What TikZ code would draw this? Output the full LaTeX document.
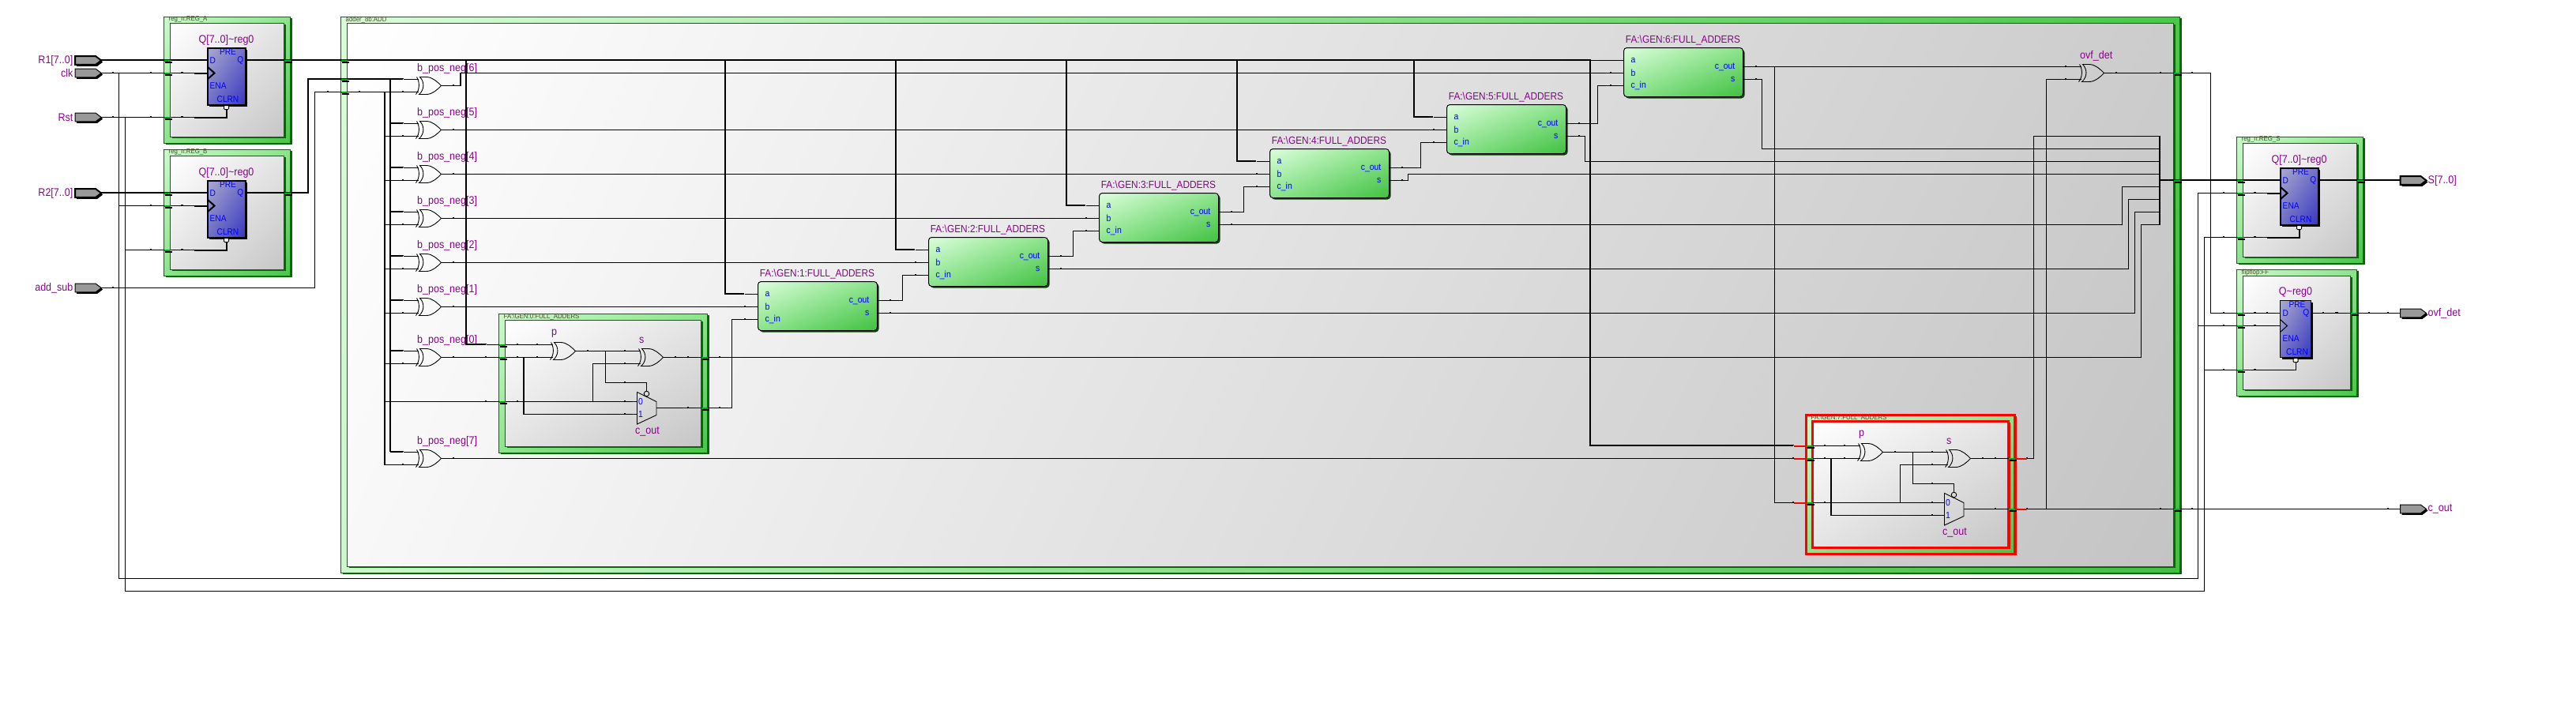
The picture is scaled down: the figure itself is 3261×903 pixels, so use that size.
\documentclass[tikz,border=0pt]{standalone}
\usepackage{fontspec}
\usepackage{xcolor}
\setmainfont[FakeStretch=0.9]{Liberation Sans}
\usetikzlibrary{shadings}
\definecolor{hierdark}{RGB}{10, 100, 10}
\definecolor{hieredgecol}{RGB}{0, 110, 0}
\definecolor{siglabelcol}{RGB}{140, 0, 140}
\definecolor{hierlabelcol}{RGB}{72, 80, 40}
\definecolor{portblue}{RGB}{0, 0, 255}
\definecolor{pingrey}{RGB}{153, 153, 153}
\definecolor{portgreen}{RGB}{0, 170, 20}
\tikzset{
    wire/.style={black,line width=1.1pt,line cap=square},
    buswire/.style={black,line width=2pt,line cap=square,transform canvas={xshift=-0.5pt,yshift=0.5pt}},
    gateline/.style={black,line width=0.9pt},
    redstub/.style={red,line width=2pt},
    hieredge/.style={draw=hieredgecol,line width=1pt},
    hiershadow/.style={fill=hierdark},
    bandsmall/.style={upper left={rgb,255:red,204;green,250;blue,204},upper right={rgb,255:red,140;green,228;blue,140},lower left={rgb,255:red,140;green,228;blue,140},lower right={rgb,255:red,72;green,198;blue,72}},
    facesmall/.style={upper left=white,upper right={rgb,255:red,228;green,228;blue,228},lower left={rgb,255:red,228;green,228;blue,228},lower right={rgb,255:red,198;green,198;blue,198}},
    bandadder/.style={upper left={rgb,255:red,216;green,252;blue,216},upper right={rgb,255:red,72;green,200;blue,72},lower left={rgb,255:red,204;green,246;blue,204},lower right={rgb,255:red,64;green,192;blue,64}},
    faceadder/.style={upper left=white,upper right={rgb,255:red,204;green,204;blue,204},lower left={rgb,255:red,248;green,248;blue,248},lower right={rgb,255:red,196;green,196;blue,196}},
    regshade/.style={upper left={rgb,255:red,170;green,170;blue,206},upper right={rgb,255:red,112;green,112;blue,200},lower left={rgb,255:red,112;green,112;blue,200},lower right={rgb,255:red,56;green,56;blue,192}},
    boxshade/.style={upper left={rgb,255:red,220;green,253;blue,220},upper right={rgb,255:red,140;green,228;blue,140},lower left={rgb,255:red,140;green,228;blue,140},lower right={rgb,255:red,64;green,192;blue,64}},
    siglabel/.style={font=\fontsize{13.9}{15}\selectfont,text=siglabelcol,inner sep=0pt},
    boxlabel/.style={font=\fontsize{13.2}{15}\selectfont,text=siglabelcol,inner sep=0pt},
    hierlabel/.style={font=\fontsize{8.7}{10}\selectfont,text=hierlabelcol,inner sep=0pt,anchor=west},
    pinname/.style={font=\fontsize{11.3}{13}\selectfont,text=portblue,inner sep=0pt},
    smallpin/.style={font=\fontsize{11.6}{13}\selectfont,text=portblue,inner sep=0pt}
}
\newcommand{\wiredot}[2]{
    \fill[black] (#1-1,#2-2) rectangle (#1+1,#2-0.6);
}
\newcommand{\hierblock}[8]{
    \coordinate (#1-nw) at (#2,#3);
    \coordinate (#1-se) at (#4,#5);
    \fill[hiershadow] ([shift={(2,2)}]#1-nw) rectangle ([shift={(2,2)}]#1-se);
    \shadedraw[#7,hieredge] (#1-nw) rectangle (#1-se);
    \fill[hiershadow] ([shift={(10,10)}]#1-nw) rectangle ([shift={(-6,-6)}]#1-se);
    \shadedraw[#6,hieredge] ([shift={(8,8)}]#1-nw) rectangle ([shift={(-8,-8)}]#1-se);
    \node[hierlabel] (#1-lbl) at ([shift={(6,3.8)}]#1-nw) {#8};
}
\newcommand{\portmark}[2]{
    \fill[black] (#1+1.5,#2+1) rectangle (#1+10,#2+3.7);
    \fill[portgreen] (#1+0.7,#2-1) rectangle (#1+8.7,#2+1.5);
    \wiredot{#1-17}{#2}
    \wiredot{#1+23}{#2}
}
\newcommand{\pinshape}[5]{
    \begin{scope}[shift={(#2,#3)}]
        \fill[black] (2,-3.3) -- (28,-3.3) -- (35,2) -- (28,7.3) -- (2,7.3) -- cycle;
        \draw[fill=pingrey,draw=black,line width=#4] (0,-5.3) -- (26,-5.3) -- (33,0) -- (26,5.3) -- (0,5.3) -- cycle;
        \coordinate (#1-i) at (0,0);
        \coordinate (#1-o) at (33,0);
        \wiredot{#5}{0}
    \end{scope}
}
\newcommand{\xorgate}[4]{
    \begin{scope}[shift={(#2,#3)}]
        \draw[gateline] (0,-11) .. controls (4,-5) and (4,5) .. (-1,11);
        \draw[gateline] (4,-11) .. controls (10,-5) and (10,5) .. (3,11) -- (12,11) .. controls (20,11) and (26,5) .. (31,0) .. controls (26,-5) and (20,-11) .. (12,-11) -- cycle;
        \coordinate (#1-a) at (2.5,-8);
        \coordinate (#1-b) at (2.5,8);
        \coordinate (#1-o) at (31,0);
        \node[siglabel,anchor=west] (#1-lbl) at (0.5,-22) {#4};
        \wiredot{-18}{-8}
        \wiredot{-18}{8}
        \wiredot{46}{0}
    \end{scope}
}
\newcommand{\dffreg}[6]{
    \begin{scope}[shift={(#2,#3)}]
        \fill[black] (2,2) rectangle ({#4+2},74);
        \shadedraw[regshade,draw=black,line width=#6] (0,0) rectangle (#4,72);
        \draw[black,line width=#6] (0,24) -- (9,32) -- (0,40);
        \draw[black,line width=#6] (-17,32) -- (0,32);
        \draw[black,line width=#6] (-17,88) -| ({#4/2},78);
        \draw[black,fill=white,line width=1pt,rounded corners=1pt] ({#4/2-3},73) rectangle ({#4/2+3},78);
        \coordinate (#1-d) at (0,16);
        \coordinate (#1-q) at (#4,16);
        \coordinate (#1-clkin) at (-17,32);
        \coordinate (#1-rstin) at (-17,88);
        \node[siglabel] (#1-lbl) at ({#4/2},-10) {#5};
        \node[pinname] (#1-pre) at ({#4/2+2},5) {PRE};
        \node[pinname,anchor=west] (#1-dl) at (3,16) {D};
        \node[pinname,anchor=east] (#1-ql) at ({#4-2},16) {Q};
        \node[pinname,anchor=west] (#1-ena) at (3,48) {ENA};
        \node[pinname] (#1-clrn) at ({#4/2+2},65) {CLRN};
        \wiredot{-17}{16}
        \wiredot{-33}{16}
        \wiredot{-33}{32}
        \wiredot{-33}{88}
        \wiredot{#4+15}{16}
        \wiredot{#4+31}{16}
    \end{scope}
}
\newcommand{\fullbox}[4]{
    \begin{scope}[shift={(#2,#3)}]
        \fill[hierdark!70!black,rounded corners=4pt] (2,2) rectangle (153,64);
        \shadedraw[boxshade,draw=black,line width=1pt,rounded corners=4pt] (0,0) rectangle (151,62);
        \coordinate (#1-a) at (0,16);
        \coordinate (#1-astub) at (-17,16);
        \coordinate (#1-b) at (0,32);
        \coordinate (#1-cin) at (0,48);
        \coordinate (#1-cout) at (151,24);
        \coordinate (#1-sout) at (151,40);
        \node[boxlabel] (#1-lbl) at (75,-9) {FA:\textbackslash GEN:#4:FULL\_ADDERS};
        \node[smallpin,anchor=west] (#1-la) at (9,16) {a};
        \node[smallpin,anchor=west] (#1-lb) at (9,32) {b};
        \node[smallpin,anchor=west] (#1-lc) at (9,48) {c\_in};
        \node[smallpin,anchor=east] (#1-lo) at (141,24) {c\_out};
        \node[smallpin,anchor=east] (#1-ls) at (141,40) {s};
        \draw[wire] (#1-astub) -- (#1-a);
        \wiredot{-17}{32}
        \wiredot{-17}{48}
        \wiredot{167}{24}
        \wiredot{167}{40}
    \end{scope}
}
\newcommand{\expfa}[5]{
    \begin{scope}[shift={(#2,#3)},name prefix=#1-,#5]
        \hierblock{blk}{631}{396.5}{895}{572.5}{facesmall}{bandsmall}{FA:\textbackslash GEN:#4:FULL\_ADDERS}
        \xorgate{p}{697}{444}{p}
        \xorgate{s}{808}{452}{s}
        \draw[gateline] (806,496) -- (830.5,508) -- (830.5,525) -- (806,536.5) -- cycle;
        \draw[gateline] (818,498) circle (3.3);
        \node[smallpin] (mux0) at (810.5,508) {0};
        \node[smallpin] (mux1) at (810.5,524) {1};
        \node[siglabel] (muxl) at (819,546) {c\_out};
        \coordinate (a) at (631,436);
        \coordinate (astub) at (615,436);
        \coordinate (b) at (631,452);
        \coordinate (cin) at (631,508);
        \coordinate (sout) at (895,452);
        \coordinate (cout) at (895,516);
        \coordinate (mux-zero) at (806,508);
        \coordinate (mux-one) at (806,524);
        \coordinate (mux-sel) at (818,484);
        \coordinate (mux-bub) at (818,494.7);
        \coordinate (mux-o) at (830.5,516);
        \coordinate (pj) at (766,444);
        \coordinate (pm) at (766,484);
        \coordinate (cj) at (750,508);
        \coordinate (bj) at (662.5,452);
        \draw[wire] (astub) -- (a) -- (p-a);
        \draw[wire] (b) -- (p-b);
        \draw[wire] (p-o) -- (s-a);
        \draw[wire] (pj) -- (pm) -- (mux-sel) -- (mux-bub);
        \draw[wire] (cin) -- (mux-zero);
        \draw[wire] (cj) |- (s-b);
        \draw[wire] (bj) |- (mux-one);
        \draw[wire] (s-o) -- (sout);
        \draw[wire] (mux-o) -- (cout);
        \wiredot{790}{484}
        \wiredot{790}{508}
        \wiredot{790}{524}
    \end{scope}
}
\begin{document}
\begin{tikzpicture}[x=1pt,y=-1pt,shift={(0.5,0.5)}]
    \useasboundingbox (-0.5,-0.5) rectangle (3260.5,902.5);

    \hierblock{blkA}{207}{20.5}{367}{180.5}{facesmall}{bandsmall}{reg\_n:REG\_A}
    \hierblock{blkB}{207}{188.5}{367}{348.5}{facesmall}{bandsmall}{reg\_n:REG\_B}
    \hierblock{blkadd}{431}{20.5}{2759}{724.5}{faceadder}{bandadder}{adder\_8b:ADD}
    \hierblock{blkS}{2831}{172.5}{2991}{332.5}{facesmall}{bandsmall}{reg\_n:REG\_S}
    \hierblock{blkF}{2831}{340.5}{2983}{500.5}{facesmall}{bandsmall}{flipflop:FF}

    \dffreg{regA}{262}{60}{48}{Q[7..0]\char`\~reg0}{2pt}
    \dffreg{regB}{262}{228}{48}{Q[7..0]\char`\~reg0}{2pt}
    \dffreg{regS}{2886}{212}{48}{Q[7..0]\char`\~reg0}{2pt}
    \dffreg{ffq}{2886}{380}{39}{Q\char`\~reg0}{1pt}

    \pinshape{pinR1}{94.7}{76}{2pt}{48}
    \pinshape{pinclk}{94.7}{92}{1pt}{48}
    \pinshape{pinRst}{94.7}{148}{1pt}{48}
    \pinshape{pinR2}{94.7}{244}{2pt}{48}
    \pinshape{pinadd}{94.7}{364}{1pt}{48}
    \pinshape{pinS}{3038}{228}{2pt}{-16}
    \pinshape{pinV}{3038}{396}{1pt}{-16}
    \pinshape{pinC}{3038}{644}{1pt}{-16}

    \node[siglabel,anchor=east] (lblR1) at (92,76) {R1[7..0]};
    \node[siglabel,anchor=east] (lblclk) at (92,92) {clk};
    \node[siglabel,anchor=east] (lblRst) at (92,148) {Rst};
    \node[siglabel,anchor=east] (lblR2) at (92,244) {R2[7..0]};
    \node[siglabel,anchor=east] (lbladd) at (92,364) {add\_sub};
    \node[siglabel,anchor=west] (lblS) at (3073,228) {S[7..0]};
    \node[siglabel,anchor=west] (lblV) at (3073,396) {ovf\_det};
    \node[siglabel,anchor=west] (lblC) at (3073,644) {c\_out};

    \foreach \g/\gy in {6/108,5/164,4/220,3/276,2/332,1/388,0/452,7/580}
        \xorgate{xor\g}{527}{\gy}{b\_pos\_neg[\g]};
    \xorgate{xorov}{2632}{92}{ovf\_det}

    \fullbox{fa1}{959}{356}{1}
    \fullbox{fa2}{1175}{300}{2}
    \fullbox{fa3}{1391}{244}{3}
    \fullbox{fa4}{1607}{188}{4}
    \fullbox{fa5}{1831}{132}{5}
    \fullbox{fa6}{2055}{60}{6}
    \expfa{fa0}{0}{0}{0}{}
    \expfa{fa7}{1655}{128}{7}{hieredge/.style={draw=red,line width=3pt},hiershadow/.style={fill=red}}

    \coordinate (clktop) at (150,92);
    \coordinate (rsttop) at (158,148);
    \coordinate (clkbl) at (150,732);
    \coordinate (rstbl) at (158,748);
    \coordinate (clkbr) at (2782,732);
    \coordinate (rstbr) at (2790,748);
    \coordinate (clkrt) at (2782,244);
    \coordinate (rstrt) at (2790,300);
    \draw[buswire] (pinR1-o) -- (regA-d);
    \draw[wire] (pinclk-o) -- (regA-clkin);
    \draw[wire] (pinRst-o) -- (regA-rstin);
    \draw[buswire] (pinR2-o) -- (regB-d);
    \draw[wire] (clktop) |- (regB-clkin);
    \draw[wire] (rsttop) |- (regB-rstin);
    \draw[wire] (clktop) -- (clkbl) -- (clkbr) -- (clkrt) -- (regS-clkin);
    \draw[wire] (rsttop) -- (rstbl) -- (rstbr) -- (rstrt) -- (regS-rstin);
    \draw[wire] (clkrt |- ffq-clkin) -- (ffq-clkin);
    \draw[wire] (rstrt |- ffq-rstin) -- (ffq-rstin);

    \coordinate (busAend) at (2013,76);
    \coordinate (busBv) at (390,244);
    \coordinate (busBt) at (390,100);
    \coordinate (busBj) at (494,100);
    \coordinate (busBb) at (494,572);
    \coordinate (stubx) at (510,100);
    \coordinate (addv) at (398,364);
    \coordinate (addt) at (398,116);
    \coordinate (subj) at (486.5,116);
    \coordinate (subb) at (486.5,588);
    \draw[buswire] (regA-q) -- (busAend) |- (fa7-astub);
    \draw[wire] (busAend) -- (fa6-a);
    \draw[buswire] (regB-q) -- (busBv) -- (busBt) -- (stubx);
    \draw[buswire] (busBj) -- (busBb);
    \draw[wire] (pinadd-o) -- (addv) -- (addt) -- (subj) -- (subb);
    \draw[wire] (subj |- fa0-cin) -- (fa0-cin);

    \foreach \fa/\fx in {fa0/590,fa1/918,fa2/1134,fa3/1350,fa4/1566,fa5/1790} {
        \coordinate (\fa-top) at (\fx,76);
        \draw[buswire] (\fa-top) |- (\fa-astub);
    }
    \foreach \g in {0,...,7} {
        \draw[buswire] (busBj |- xor\g-a) -- (stubx |- xor\g-a);
        \draw[wire] (stubx |- xor\g-a) -- (xor\g-a);
        \draw[wire] (subj |- xor\g-b) -- (xor\g-b);
    }

    \coordinate (b6j) at (582.5,92);
    \draw[wire] (xor6-o) -| (b6j) -- (fa6-b);
    \foreach \g in {0,1,2,3,4,5,7}
        \draw[wire] (xor\g-o) -- (fa\g-b);

    \foreach \fa/\fb/\cx in {fa0/fa1/926,fa1/fa2/1142,fa2/fa3/1358,fa3/fa4/1574,fa4/fa5/1798,fa5/fa6/2022} {
        \coordinate (\fa-cv) at (\cx,0);
        \draw[wire] (\fa-cout) -| (\fa-cv |- \fb-cin) -- (\fb-cin);
    }

    \foreach \fa/\sx/\sy in {fa0/2710/284,fa1/2702/268,fa2/2694/252,fa3/2686/236,fa4/1782/220,fa5/2006/204,fa6/2230/188,fa7/2574/172} {
        \coordinate (\fa-sj) at (\sx,\sy);
        \coordinate (\fa-sb) at (2734,\sy);
        \draw[wire] (\fa-sout) -| (\fa-sj) -- (\fa-sb);
    }

    \coordinate (busSt) at (2734,172);
    \coordinate (busSb) at (2734,284);
    \coordinate (busSj) at (2734,228);
    \coordinate (cinj) at (2246,84);
    \coordinate (ovfj) at (2590,644);
    \coordinate (ovfv) at (2798,92);
    \draw[buswire] (busSt) -- (busSb);
    \draw[buswire] (busSj) -- (regS-d);
    \draw[buswire] (regS-q) -- (pinS-i);
    \draw[wire] (fa6-cout) -- (xorov-a);
    \draw[wire] (cinj) |- (fa7-cin);
    \draw[wire] (fa7-cout) -- (pinC-i);
    \draw[wire] (ovfj) |- (xorov-b);
    \draw[wire] (xorov-o) -- (ovfv) |- (ffq-d);
    \draw[wire] (ffq-q) -- (pinV-i);

    \foreach \st in {a,b,cin}
        \draw[redstub] (fa7-\st) -- ++(-16,0);
    \foreach \st in {sout,cout}
        \draw[redstub] (fa7-\st) -- ++(15,0);

    \foreach \px/\py in {207/76,207/92,207/148,359/76,207/244,207/260,207/316,359/244,431/76,431/100,431/116,2751/92,2751/228,2751/644,2831/228,2831/244,2831/300,2983/228,2831/396,2831/412,2831/468,2975/396,631/436,631/452,631/508,887/452,887/516,2286/564,2286/580,2286/636,2542/580,2542/644}
        \portmark{\px}{\py};
\end{tikzpicture}
\end{document}
